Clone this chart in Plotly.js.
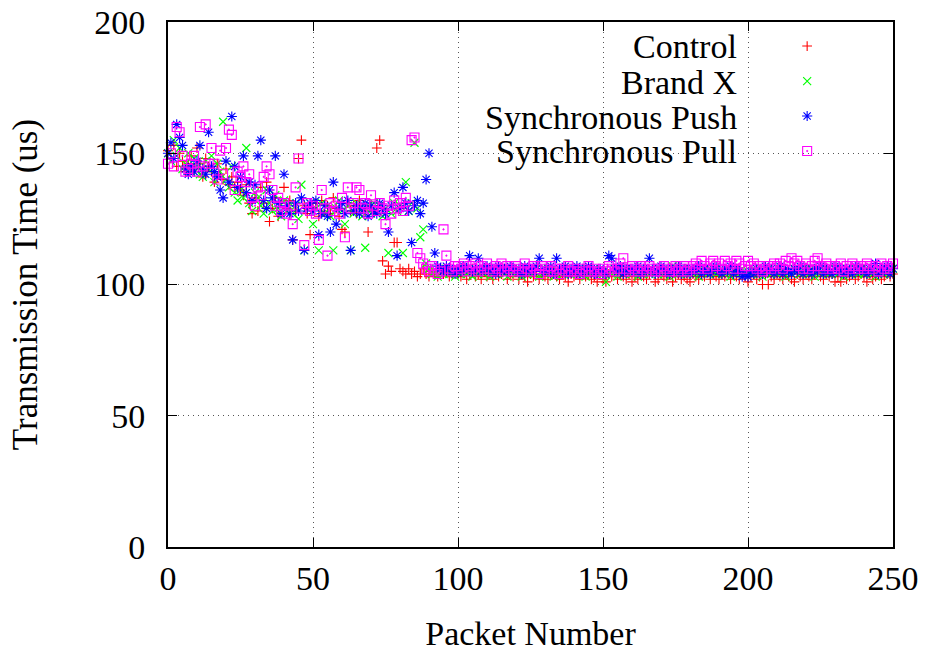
<!DOCTYPE html>
<html>
<head>
<meta charset="utf-8">
<script src="https://cdn.plot.ly/plotly-3.0.1.min.js"></script>
<style>html,body{margin:0;padding:0;background:#fff;}#chart{width:927px;height:652px;}</style>
</head>
<body>
<div id="chart"></div>
<script>
// Packet numbers 0..250
const packetCount = 251;
const packets = Array.from({length: packetCount}, (_, i) => i);

const seriesNames = ["Control", "Brand X", "Synchronous Push", "Synchronous Pull"];

const control = [
  151,148,153,145,150,147,143,146,149,144,
  152,146,141,148,145,143,139,146,142,140,
  144,138,141,137,139,136,134,138,131,127,
  133,128,137,131,139,124,129,133,126,131,
  137,129,132,117,128,148,155,130,127,119,
  129,131,126,132,128,130,127,133,129,126,
  121,120,131,128,130,127,132,129,128,120,
  130,128,152,155,109,104,107,105,116,116,
  106,105,104,106,104,105,103,104,106,104,
  103,105,104,103,106,104,105,103,104,105,
  104,103,105,102,104,106,103,104,102,105,
  103,104,102,105,103,104,106,102,104,103,
  105,102,104,103,101,104,103,105,102,104,
  103,102,104,105,103,102,104,103,101,104,
  103,104,102,105,103,104,102,103,101,104,
  102,101,104,103,105,102,104,103,102,104,
  101,103,102,104,103,102,104,105,101,102,
  104,103,102,104,101,103,104,102,103,102,
  101,104,103,102,104,103,105,102,104,103,
  102,104,103,105,102,104,103,102,104,103,
  101,103,104,102,103,100,104,100,103,102,
  104,103,102,104,103,102,101,104,103,102,
  104,103,102,104,105,103,102,104,103,104,
  101,103,101,104,102,103,104,102,103,104,
  103,101,104,102,103,104,102,103,104,103,104
];

const brandX = [
  150,147,155,149,152,144,146,150,143,148,
  145,142,141,147,144,149,139,146,143,162,
  140,137,145,135,132,136,133,152,131,128,
  135,133,130,127,136,131,128,134,129,126,
  132,128,131,127,130,125,138,113,129,131,
  123,129,113,131,127,130,126,113,129,132,
  128,123,130,113,127,131,129,126,114,130,
  127,131,128,130,126,129,112,127,131,128,
  130,112,139,128,131,154,129,118,121,108,
  106,104,105,103,105,104,106,104,105,103,
  105,104,106,104,105,103,106,104,105,104,
  106,103,105,104,106,105,104,103,105,106,
  104,105,103,106,104,105,104,106,103,105,
  104,106,105,103,104,105,104,106,105,104,
  105,104,106,104,103,105,104,106,105,104,
  104,101,105,104,106,103,105,104,106,105,
  104,105,103,106,104,105,104,106,105,104,
  105,104,106,103,107,105,104,106,105,104,
  106,104,105,103,106,105,104,106,105,104,
  105,106,104,105,103,106,104,105,106,104,
  105,104,106,105,104,103,105,106,104,105,
  104,106,105,103,105,104,106,105,104,106,
  105,104,106,103,105,104,106,105,104,105,
  106,104,105,103,106,104,105,106,104,105,
  104,106,105,104,103,105,106,104,105,104,106
];

const syncPush = [
  150,154,148,161,156,153,144,142,145,143,
  147,153,144,142,158,145,143,141,136,133,
  147,139,164,145,137,141,149,135,139,132,
  138,149,155,132,129,136,133,149,131,127,
  142,130,127,117,131,128,133,113,129,131,
  128,132,119,127,130,126,120,139,123,129,
  131,127,132,113,128,130,127,129,131,126,
  130,128,127,131,129,127,120,130,135,111,
  129,137,131,128,116,130,132,127,131,140,
  150,122,112,107,106,105,107,106,105,104,
  106,105,107,106,111,105,106,110,105,106,
  107,105,106,104,107,105,106,105,107,106,
  105,106,104,107,105,106,105,107,110,105,
  106,105,107,104,110,106,105,107,104,106,
  105,107,104,106,105,107,106,104,105,106,
  105,104,111,110,106,105,107,104,106,105,
  106,105,107,104,106,105,110,106,104,105,
  107,106,105,104,106,105,107,104,106,105,
  104,106,105,107,104,106,105,104,106,107,
  105,104,106,105,107,104,106,105,103,104,
  103,105,104,106,105,104,107,105,106,104,
  105,107,104,106,105,104,106,105,107,104,
  106,105,104,106,105,107,104,106,105,104,
  107,105,106,104,106,105,104,107,105,106,
  105,104,106,105,108,104,106,105,107,104,106
];

const syncPull = [
  146,150,145,160,158,149,143,144,146,149,
  143,160,145,161,146,152,146,140,151,142,
  152,159,157,136,143,141,145,139,142,133,
  130,137,134,141,145,142,136,130,133,128,
  131,127,130,123,137,148,129,115,131,128,
  130,127,117,136,129,111,131,128,130,127,
  133,118,137,129,131,137,136,129,131,127,
  134,130,128,131,129,123,130,127,132,129,
  131,128,133,130,155,156,112,110,108,106,
  105,107,106,104,105,121,111,106,105,107,
  107,106,108,105,107,106,108,105,107,106,
  108,106,105,107,106,108,105,107,106,105,
  107,106,105,108,106,105,107,106,104,107,
  106,105,107,105,106,104,106,105,107,105,
  106,105,104,106,105,107,105,106,105,104,
  106,105,107,106,105,106,108,110,106,105,
  107,106,105,107,106,105,107,106,105,106,
  105,107,106,105,106,107,105,106,107,105,
  106,107,108,106,109,107,106,108,109,107,
  108,106,109,107,108,106,109,108,106,107,
  109,107,108,106,107,105,106,107,106,108,
  107,108,106,109,107,110,108,109,107,106,
  108,106,107,109,110,107,106,108,107,106,
  107,106,108,105,107,106,108,107,106,107,
  106,108,107,106,107,105,108,106,107,106,108
];

const xTickVals = [0, 50, 100, 150, 200, 250];
const yTickVals = [0, 50, 100, 150, 200];

const seriesData = [control, brandX, syncPush, syncPull];
const colors = ["#ff0000", "#00ff00", "#0000ff", "#ff00ff"];
const symbols = ["cross-thin-open", "x-thin-open", "asterisk-open", "square-open-dot"];
const sizes = [7, 8, 8.5, 9];

const FONT = "'Liberation Serif', 'Times New Roman', Times, serif";

// Plot traces: named after the series; the key is drawn as gnuplot does
// (right-aligned text as annotations, symbols from Plotly's own legend).
const traces = seriesData.map((ys, k) => ({
  type: "scatter",
  mode: "markers",
  name: " ",
  meta: seriesNames[k],
  legendgroup: "g" + k,
  x: packets,
  y: ys,
  cliponaxis: false,
  marker: {
    symbol: symbols[k],
    size: sizes[k],
    color: colors[k],
    line: {color: colors[k], width: 1.1}
  }
}));

const keyY = [0.9524, 0.8857, 0.8190, 0.7524];
const annotations = seriesNames.map((n, k) => ({
  xref: "paper", yref: "paper",
  x: 0.7875, y: keyY[k],
  xanchor: "right", yanchor: "middle",
  text: n, showarrow: false,
  font: {family: FONT, size: 34, color: "#000"}
}));

const axisCommon = {
  showline: true, linecolor: "#000", linewidth: 2, mirror: "ticks",
  ticks: "inside", ticklen: 9, tickwidth: 1, tickcolor: "#000",
  showgrid: true, gridcolor: "#555", gridwidth: 1, griddash: "1px,4px",
  zeroline: false,
  tickfont: {family: FONT, size: 34, color: "#000"}
};

const layout = {
  width: 927, height: 652,
  margin: {l: 168, r: 34, t: 22, b: 105, autoexpand: false},
  paper_bgcolor: "#fff", plot_bgcolor: "#fff",
  font: {family: FONT, size: 34, color: "#000"},
  showlegend: true,
  legend: {
    x: 0.854, y: 0.997, xanchor: "left", yanchor: "top",
    bgcolor: "rgba(0,0,0,0)", borderwidth: 0,
    tracegroupgap: 0,
    font: {family: FONT, size: 24.6, color: "#000"},
    itemclick: false, itemdoubleclick: false
  },
  xaxis: Object.assign({}, axisCommon, {
    range: [0, 250], tickmode: "array", tickvals: xTickVals, ticktext: xTickVals.map(String),
    ticklabelstandoff: 0,
    title: {text: "Packet Number", font: {family: FONT, size: 34, color: "#000"}, standoff: 30}
  }),
  yaxis: Object.assign({}, axisCommon, {
    range: [0, 200], tickmode: "array", tickvals: yTickVals, ticktext: yTickVals.map(String),
    ticklabelstandoff: 14,
    title: {text: "Transmission Time (us)", font: {family: FONT, size: 35, color: "#000"}, standoff: 46}
  }),
  shapes: [{
    type: "rect", xref: "paper", yref: "paper", layer: "between",
    x0: 0.33, x1: 0.968, y0: 0.718, y1: 1,
    fillcolor: "#fff", line: {width: 0}
  }],
  annotations: annotations,
  hovermode: false
};

Plotly.newPlot("chart", traces, layout, {staticPlot: true, displayModeBar: false});
</script>
</body>
</html>
